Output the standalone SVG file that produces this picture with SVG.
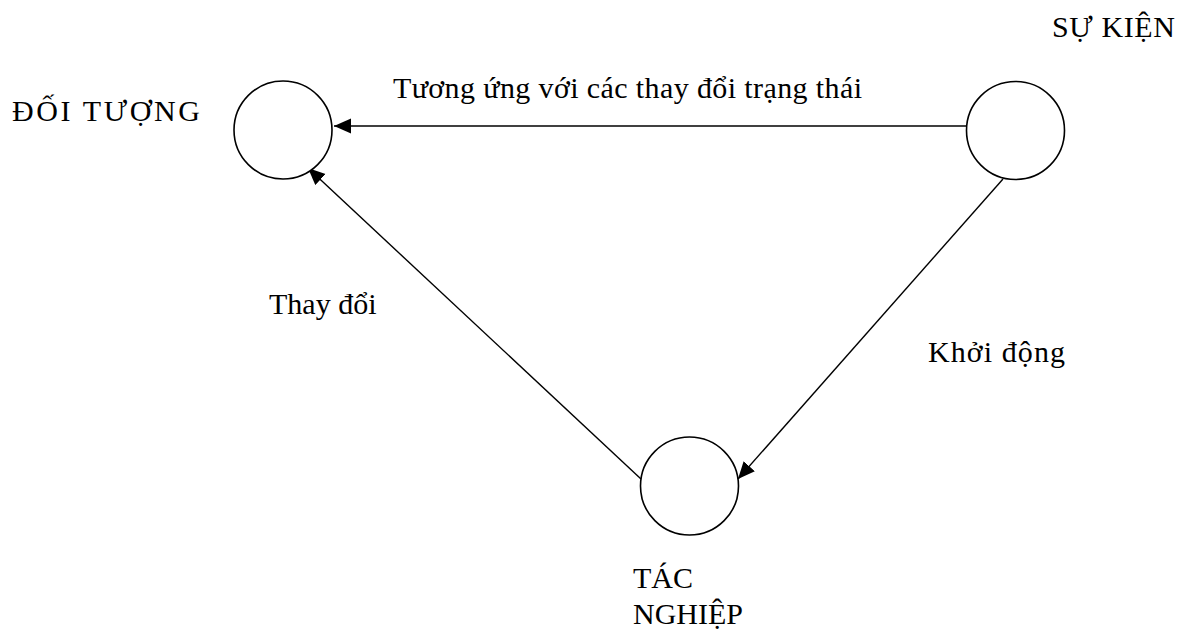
<svg xmlns="http://www.w3.org/2000/svg" width="1189" height="634" viewBox="0 0 1189 634">
  <style>
    .node circle { fill: #ffffff; stroke: #000000; stroke-width: 1.6; }
    .label { font-family: "Liberation Serif", "Times New Roman", serif; font-size: 30px; fill: #000000; }
    .edge { stroke: #000000; stroke-width: 1.4; fill: none; marker-end: url(#arrow); }
  </style>
  <defs>
    <marker id="arrow" markerUnits="userSpaceOnUse" markerWidth="18" markerHeight="16" refX="17" refY="7.5" orient="auto">
      <path d="M0,0 L17,7.5 L0,15 z" fill="#000000"/>
    </marker>
  </defs>
  <rect width="1189" height="634" fill="#ffffff"/>

  <g id="connectors">
    <line class="edge" x1="966" y1="126" x2="334" y2="126"/>
    <line class="edge" x1="1003" y1="179" x2="738" y2="479"/>
    <line class="edge" x1="641" y1="479" x2="308" y2="168"/>
    <text class="label" x="393" y="98" textLength="469" lengthAdjust="spacing">Tương ứng với các thay đổi trạng thái</text>
    <text class="label" x="269" y="314">Thay đổi</text>
    <text class="label" x="928" y="362" textLength="137" lengthAdjust="spacing">Khởi động</text>
  </g>

  <g id="doi-tuong" class="node">
    <circle cx="283" cy="130" r="49"/>
    <text class="label" x="12" y="121" textLength="188" lengthAdjust="spacing">ĐỐI TƯỢNG</text>
  </g>

  <g id="su-kien" class="node">
    <circle cx="1015.5" cy="130.5" r="49"/>
    <text class="label" x="1052" y="37" textLength="123" lengthAdjust="spacing">SỰ KIỆN</text>
  </g>

  <g id="tac-nghiep" class="node">
    <circle cx="689.5" cy="486" r="49"/>
    <text class="label" x="633" y="588">TÁC</text>
    <text class="label" x="633" y="624">NGHIỆP</text>
  </g>
</svg>
